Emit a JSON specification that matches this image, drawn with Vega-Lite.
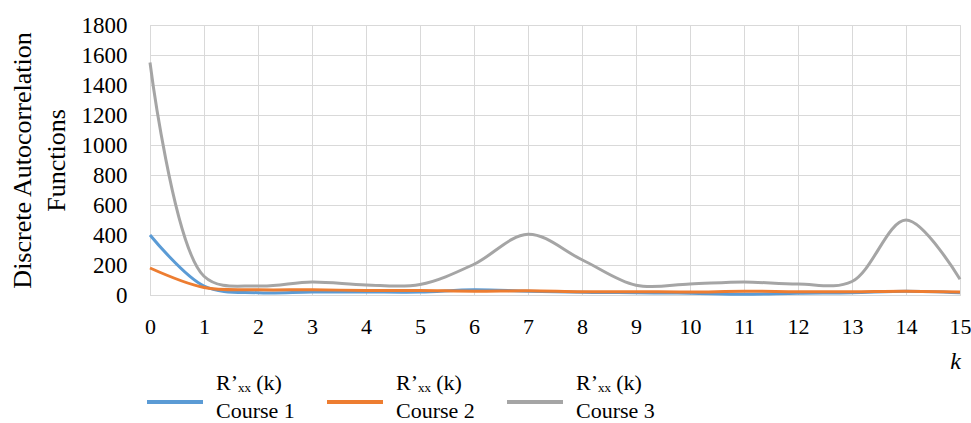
{
  "$schema": "https://vega.github.io/schema/vega-lite/v6.json",
  "width": 810,
  "height": 270,
  "autosize": "none",
  "padding": {"left": 150, "top": 25, "right": 11, "bottom": 128},
  "background": "white",
  "config": {
    "view": {"stroke": "#d9d9d9", "strokeWidth": 1},
    "font": "Liberation Serif"
  },
  "data": {
    "values": [
      {"k": 0, "series": "Course 1", "value": 400},
      {"k": 1, "series": "Course 1", "value": 60},
      {"k": 2, "series": "Course 1", "value": 15},
      {"k": 3, "series": "Course 1", "value": 20},
      {"k": 4, "series": "Course 1", "value": 20},
      {"k": 5, "series": "Course 1", "value": 20},
      {"k": 6, "series": "Course 1", "value": 35},
      {"k": 7, "series": "Course 1", "value": 25},
      {"k": 8, "series": "Course 1", "value": 18},
      {"k": 9, "series": "Course 1", "value": 15},
      {"k": 10, "series": "Course 1", "value": 12},
      {"k": 11, "series": "Course 1", "value": 5},
      {"k": 12, "series": "Course 1", "value": 12},
      {"k": 13, "series": "Course 1", "value": 15},
      {"k": 14, "series": "Course 1", "value": 25},
      {"k": 15, "series": "Course 1", "value": 15},
      {"k": 0, "series": "Course 2", "value": 180},
      {"k": 1, "series": "Course 2", "value": 50},
      {"k": 2, "series": "Course 2", "value": 35},
      {"k": 3, "series": "Course 2", "value": 35},
      {"k": 4, "series": "Course 2", "value": 30},
      {"k": 5, "series": "Course 2", "value": 30},
      {"k": 6, "series": "Course 2", "value": 25},
      {"k": 7, "series": "Course 2", "value": 28},
      {"k": 8, "series": "Course 2", "value": 22},
      {"k": 9, "series": "Course 2", "value": 22},
      {"k": 10, "series": "Course 2", "value": 20},
      {"k": 11, "series": "Course 2", "value": 25},
      {"k": 12, "series": "Course 2", "value": 22},
      {"k": 13, "series": "Course 2", "value": 22},
      {"k": 14, "series": "Course 2", "value": 25},
      {"k": 15, "series": "Course 2", "value": 20},
      {"k": 0, "series": "Course 3", "value": 1550},
      {"k": 1, "series": "Course 3", "value": 125},
      {"k": 2, "series": "Course 3", "value": 60},
      {"k": 3, "series": "Course 3", "value": 87},
      {"k": 4, "series": "Course 3", "value": 67},
      {"k": 5, "series": "Course 3", "value": 70},
      {"k": 6, "series": "Course 3", "value": 205},
      {"k": 7, "series": "Course 3", "value": 405},
      {"k": 8, "series": "Course 3", "value": 235},
      {"k": 9, "series": "Course 3", "value": 65},
      {"k": 10, "series": "Course 3", "value": 73},
      {"k": 11, "series": "Course 3", "value": 87},
      {"k": 12, "series": "Course 3", "value": 73},
      {"k": 13, "series": "Course 3", "value": 90},
      {"k": 14, "series": "Course 3", "value": 500},
      {"k": 15, "series": "Course 3", "value": 105}
    ]
  },
  "mark": {"type": "line", "interpolate": "catmull-rom", "strokeWidth": 3},
  "encoding": {
    "x": {
      "field": "k",
      "type": "quantitative",
      "scale": {"domain": [0, 15], "nice": false},
      "axis": {
        "values": [0,1,2,3,4,5,6,7,8,9,10,11,12,13,14,15],
        "format": "d",
        "grid": true,
        "gridColor": "#d9d9d9",
        "domainColor": "#d9d9d9",
        "ticks": false,
        "labelFont": "Liberation Serif",
        "labelFontSize": 22,
        "labelColor": "#000000",
        "labelPadding": 21,
        "labelFlush": false,
        "title": "k",
        "titleFont": "Liberation Serif",
        "titleFontStyle": "italic",
        "titleFontWeight": "normal",
        "titleFontSize": 24,
        "titleColor": "#000000",
        "titleAnchor": null,
        "titleX": 805,
        "titleY": 66,
        "titleAlign": "center",
        "titleBaseline": "middle"
      }
    },
    "y": {
      "field": "value",
      "type": "quantitative",
      "scale": {"domain": [0, 1800], "nice": false},
      "axis": {
        "values": [0,200,400,600,800,1000,1200,1400,1600,1800],
        "format": "d",
        "grid": true,
        "gridColor": "#d9d9d9",
        "domainColor": "#d9d9d9",
        "ticks": false,
        "labelFont": "Liberation Serif",
        "labelFontSize": 23,
        "labelColor": "#000000",
        "labelPadding": 23,
        "title": ["Discrete Autocorrelation", "Functions"],
        "titleFont": "Liberation Serif",
        "titleFontWeight": "normal",
        "titleFontSize": 26,
        "titleLineHeight": 34,
        "titleColor": "#000000",
        "titlePadding": 12
      }
    },
    "color": {
      "field": "series",
      "type": "nominal",
      "scale": {"domain": ["Course 1", "Course 2", "Course 3"], "range": ["#5B9BD5", "#ED7D31", "#A5A5A5"]},
      "legend": {
        "title": null,
        "orient": "none",
        "legendX": -5,
        "legendY": 347,
        "direction": "horizontal",
        "symbolType": "stroke",
        "symbolSize": 3136,
        "symbolStrokeWidth": 4,
        "labelFont": "Liberation Serif",
        "labelFontSize": 22,
        "labelColor": "#000000",
        "labelExpr": "['R’ₓₓ (k)', datum.label]",
        "labelOffset": 11,
        "columnPadding": 24,
        "encode": {
          "labels": {"update": {"dy": {"value": -19}, "lineHeight": {"value": 28}}}
        }
      }
    }
  }
}
